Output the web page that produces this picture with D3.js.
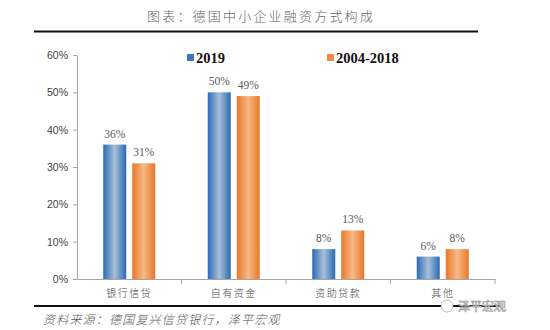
<!DOCTYPE html>
<html><head><meta charset="utf-8">
<script src="https://cdn.jsdelivr.net/npm/d3@7"></script>
<style>body{margin:0;background:#fff;}svg{display:block;}</style>
</head><body>
<svg id="c" width="550" height="330"></svg>
<script>
const categories = ["银行信贷", "自有资金", "资助贷款", "其他"];
const seriesNames = ["2019", "2004-2018"];
const values2019 = [36, 50, 8, 6];
const values0418 = [31, 49, 13, 8];
const yTicks = [0, 10, 20, 30, 40, 50, 60];
const titleText = "图表：德国中小企业融资方式构成";
const sourceText = "资料来源：德国复兴信贷银行，泽平宏观";
const watermark = "泽平宏观";

const svg = d3.select("#c");
const cjk = "'Noto Sans CJK SC', sans-serif";
const defs = svg.append("defs");
function grad(id, edge, mid) {
  const g = defs.append("linearGradient").attr("id", id).attr("x1", "0%").attr("x2", "100%").attr("y1", "0%").attr("y2", "0%");
  g.append("stop").attr("offset", "0%").attr("stop-color", edge);
  g.append("stop").attr("offset", "50%").attr("stop-color", mid);
  g.append("stop").attr("offset", "100%").attr("stop-color", edge);
}
grad("gB", "#2a6ab5", "#a9bfd8");
grad("gO", "#e8772a", "#f8b886");
const colors = ["url(#gB)", "url(#gO)"];
const solid = ["#3b78bf", "#ee8a45"];

// title
svg.append("text").attr("x", 261).attr("y", 21).attr("text-anchor", "middle")
  .attr("font-family", cjk).attr("font-weight", 300).attr("font-size", 13).attr("fill", "#666").attr("letter-spacing", 2.2)
  .text(titleText);
svg.append("line").attr("x1", 34).attr("x2", 478).attr("y1", 31.5).attr("y2", 31.5).attr("stroke", "#111").attr("stroke-width", 2);

const x0 = d3.scaleBand().domain(categories).range([77, 495]).padding(0);
const y = d3.scaleLinear().domain([0, 60]).range([279, 55]);

// y axis
const yAxis = d3.axisLeft(y).tickValues(yTicks).tickFormat(d => d + "%").tickSize(4).tickSizeOuter(0);
const gy = svg.append("g").attr("transform", "translate(77,0)").call(yAxis);
gy.select(".domain").attr("stroke", "#a6a6a6");
gy.selectAll(".tick line").attr("stroke", "#a6a6a6");
gy.selectAll(".tick text").attr("font-family", "'Liberation Sans', Arial, sans-serif").attr("font-size", 10.5).attr("fill", "#404040").attr("x", -9);

// x axis
const xAxis = d3.axisBottom(x0).tickSize(0).tickSizeOuter(0);
const gx = svg.append("g").attr("transform", "translate(0,279)").call(xAxis);
gx.select(".domain").attr("stroke", "#a6a6a6");
gx.selectAll(".tick text").attr("font-family", cjk).attr("font-weight", 300).attr("font-size", 10).attr("fill", "#444").attr("letter-spacing", 1.5).attr("dy", "1.45em");
// category separator ticks
const bounds = categories.map(c => x0(c)).concat([x0.range()[1]]);
svg.append("g").selectAll("line").data(bounds.slice(1)).join("line")
  .attr("x1", d => d).attr("x2", d => d).attr("y1", 279).attr("y2", 284).attr("stroke", "#a6a6a6");

// bars
const x1 = d3.scaleBand().domain(seriesNames).range([0, x0.bandwidth()]).paddingInner(0.207).paddingOuter(0.905);
const data = [values2019, values0418];
seriesNames.forEach((s, si) => {
  const g = svg.append("g");
  g.selectAll("rect").data(categories).join("rect")
    .attr("x", (c) => x0(c) + x1(s))
    .attr("y", (c, i) => y(data[si][i]))
    .attr("width", x1.bandwidth())
    .attr("height", (c, i) => y(0) - y(data[si][i]))
    .attr("fill", colors[si]);
  g.selectAll("text").data(categories).join("text")
    .attr("x", (c) => x0(c) + x1(s) + x1.bandwidth() / 2)
    .attr("y", (c, i) => y(data[si][i]) - 7)
    .attr("text-anchor", "middle")
    .attr("font-family", "'Liberation Serif', 'Times New Roman', serif").attr("font-size", 11.5).attr("fill", "#595959")
    .text((c, i) => data[si][i] + "%");
});

// legend
const legX = [187, 327];
seriesNames.forEach((s, i) => {
  svg.append("rect").attr("x", legX[i]).attr("y", 54).attr("width", 7).attr("height", 7).attr("fill", solid[i]);
  svg.append("text").attr("x", legX[i] + 9).attr("y", 62.5)
    .attr("font-family", "'Liberation Serif', 'Times New Roman', serif").attr("font-weight", "bold").attr("font-size", 14.5).attr("fill", "#111")
    .text(s);
});

// bottom rule & source
svg.append("line").attr("x1", 34).attr("x2", 500).attr("y1", 306).attr("y2", 306).attr("stroke", "#111").attr("stroke-width", 2);
svg.append("text").attr("x", 43).attr("y", 324)
  .attr("font-family", cjk).attr("font-weight", 300).attr("font-size", 12).attr("font-style", "italic").attr("fill", "#555").attr("letter-spacing", 1.2)
  .text(sourceText);
// watermark
svg.append("text").attr("x", 458).attr("y", 311).attr("text-anchor", "start")
  .attr("font-family", cjk).attr("font-size", 12).attr("fill", "#fff").attr("stroke", "#999").attr("stroke-width", 0.6)
  .text(watermark);
svg.append("circle").attr("cx", 447).attr("cy", 306).attr("r", 6).attr("fill", "#fff").attr("stroke", "#aaa").attr("stroke-width", 0.8);
</script>
</body></html>
